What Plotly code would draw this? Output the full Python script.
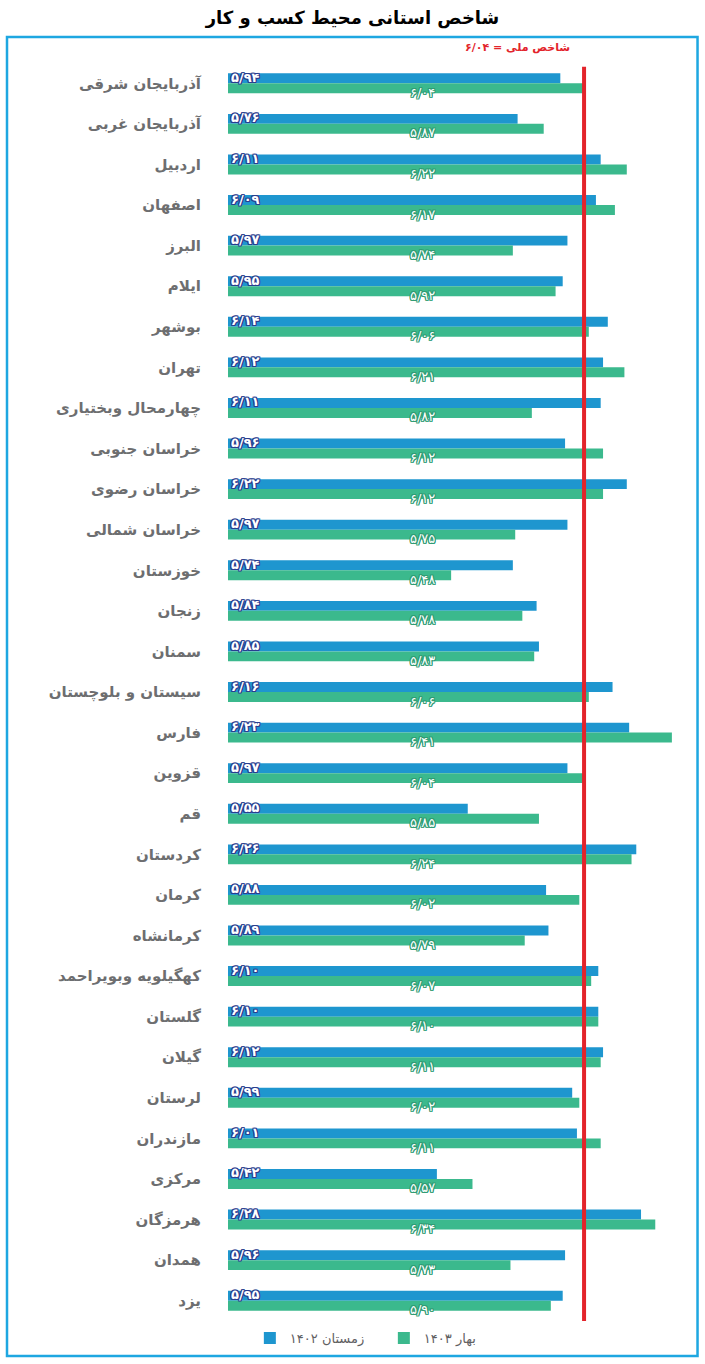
import plotly.graph_objects as go

# provinces, top to bottom
provinces = [
    'آذربایجان شرقی', 'آذربایجان غربی', 'اردبیل', 'اصفهان', 'البرز', 'ایلام',
    'بوشهر', 'تهران', 'چهارمحال وبختیاری', 'خراسان جنوبی', 'خراسان رضوی',
    'خراسان شمالی', 'خوزستان', 'زنجان', 'سمنان', 'سیستان و بلوچستان', 'فارس',
    'قزوین', 'قم', 'کردستان', 'کرمان', 'کرمانشاه', 'کهگیلویه وبویراحمد',
    'گلستان', 'گیلان', 'لرستان', 'مازندران', 'مرکزی', 'هرمزگان', 'همدان', 'یزد',
]
winter_1402 = [5.94, 5.76, 6.11, 6.09, 5.97, 5.95, 6.14, 6.12, 6.11, 5.96, 6.22,
               5.97, 5.74, 5.84, 5.85, 6.16, 6.23, 5.97, 5.55, 6.26, 5.88, 5.89,
               6.10, 6.10, 6.12, 5.99, 6.01, 5.42, 6.28, 5.96, 5.95]
spring_1403 = [6.04, 5.87, 6.22, 6.17, 5.74, 5.92, 6.06, 6.21, 5.82, 6.12, 6.12,
               5.75, 5.48, 5.78, 5.83, 6.06, 6.41, 6.04, 5.85, 6.24, 6.02, 5.79,
               6.07, 6.10, 6.11, 6.02, 6.11, 5.57, 6.34, 5.73, 5.90]
national_index = 6.04

BLUE = '#1e96cf'
GREEN = '#3bb98d'
FONT = 'DejaVu Sans'

fa_digits = str.maketrans('0123456789.', '۰۱۲۳۴۵۶۷۸۹/')


def fa(v):
    return f'{v:.2f}'.translate(fa_digits)


def outline(c):
    return ', '.join(f'{dx}px {dy}px 0 {c}' for dx in (-1, 0, 1) for dy in (-1, 0, 1) if dx or dy)


fig = go.Figure()
fig.add_trace(go.Bar(y=provinces, x=winter_1402, orientation='h', name='زمستان ۱۴۰۲',
                     marker=dict(color=BLUE, line=dict(width=0))))
fig.add_trace(go.Bar(y=provinces, x=spring_1403, orientation='h', name='بهار ۱۴۰۳',
                     marker=dict(color=GREEN, line=dict(width=0))))

# value labels
for p, w, s in zip(provinces, winter_1402, spring_1403):
    fig.add_annotation(x=4.545, y=p, xref='x', yref='y', text=fa(w), showarrow=False,
                       xanchor='left', yanchor='middle', yshift=6,
                       font=dict(family=FONT, size=13, color='white', weight='bold',
                                 shadow=outline('#2a3d8f')))
    fig.add_annotation(x=5.36, y=p, xref='x', yref='y', text=fa(s), showarrow=False,
                       xanchor='center', yanchor='middle', yshift=-9,
                       font=dict(family=FONT, size=13, color='white',
                                 shadow=outline('#2f9c74')))

# national index line
fig.add_shape(type='line', xref='x', yref='paper', x0=national_index, x1=national_index,
              y0=0, y1=0.997, line=dict(color='#e3242b', width=4))
fig.add_annotation(x=national_index, y=1.012, xref='x', yref='paper',
                   text='شاخص ملی = ' + fa(national_index), showarrow=False,
                   xanchor='right', yanchor='middle', xshift=-12,
                   font=dict(family=FONT, size=11, color='#e3242b', weight='bold'))

# frame
fig.add_shape(type='rect', xref='paper', yref='paper', x0=-0.4702, x1=0.999,
              y0=-0.0278, y1=1.0207, line=dict(color='#1ea7e1', width=2.5))

fig.update_layout(
    width=705, height=1364,
    margin=dict(l=228, r=7, t=63, b=43),
    paper_bgcolor='white', plot_bgcolor='white',
    barmode='group', bargap=0.51, bargroupgap=0,
    title=dict(text='<b>شاخص استانی محیط کسب و کار</b>', x=0.5, xref='container',
               xanchor='center', y=0.987, yanchor='middle',
               font=dict(family=FONT, size=18, color='black')),
    showlegend=True,
    legend=dict(orientation='h', x=0.0465, xanchor='left', y=-0.0135, yanchor='middle',
                entrywidth=89, entrywidthmode='pixels',
                font=dict(family=FONT, size=13, color='#5f6062'),
                bgcolor='rgba(0,0,0,0)'),
)
fig.update_xaxes(range=[4.54, 6.52], visible=False, fixedrange=True)
fig.update_yaxes(type='category', autorange='reversed', showgrid=False, showline=False,
                 ticks='', ticklabelstandoff=26, fixedrange=True,
                 tickfont=dict(family=FONT, size=15, color='#6d6e70', weight='bold'))

fig.write_html('out.html', config={'displayModeBar': False},
               post_script="document.body.style.margin='0px';")
